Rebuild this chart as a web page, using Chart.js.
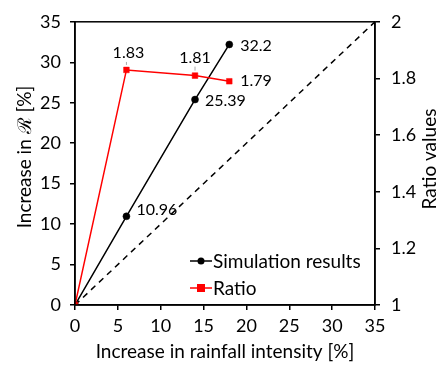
<!DOCTYPE html>
<html>
<head>
<meta charset="utf-8">
<script src="https://cdn.jsdelivr.net/npm/chart.js@4.4.0/dist/chart.umd.min.js"></script>
<style>
  body { margin: 0; background: #fff; }
  canvas { display: block; }
</style>
</head>
<body>
<canvas id="myChart" width="438" height="366"></canvas>
<script>
// data
var rainIncrease = [0, 6, 14, 18];
var simResults = [0, 10.96, 25.39, 32.2];
var ratioValues = [1, 1.83, 1.81, 1.79];
var refLineX = [0, 35];
var xTicks = [0, 5, 10, 15, 20, 25, 30, 35];
var leftTicks = [0, 5, 10, 15, 20, 25, 30, 35];
var rightTicks = [1, 1.2, 1.4, 1.6, 1.8, 2];

var FONT = 'Lato, "Open Sans", sans-serif';

function pts(xs, ys) {
  return xs.map(function(x, i) { return { x: x, y: ys[i] }; });
}

// labels next to the points: [dataset index, point index, dx, dy, align]
var labelPlaces = [
  [0, 1, 10, -6, 'left'],
  [0, 2, 10, 1, 'left'],
  [0, 3, 11, 1, 'left'],
  [1, 1, 2, -17, 'center'],
  [1, 2, 0, -18, 'center'],
  [1, 3, 11, 0, 'left']
];

var extras = {
  id: 'extras',
  afterDatasetsDraw: function(chart) {
    var ctx = chart.ctx;
    var a = chart.chartArea;
    ctx.save();
    // frame
    ctx.strokeStyle = '#000';
    ctx.lineWidth = 1.5;
    ctx.strokeRect(a.left, a.top, a.right - a.left, a.bottom - a.top);

    // value labels
    ctx.font = '16px ' + FONT;
    ctx.fillStyle = '#000';
    ctx.textBaseline = 'middle';
    labelPlaces.forEach(function(p) {
      var el = chart.getDatasetMeta(p[0]).data[p[1]];
      var v = p[0] === 0 ? simResults[p[1]] : ratioValues[p[1]];
      ctx.textAlign = p[4];
      ctx.fillText(String(v), el.x + p[2], el.y + p[3]);
      if (p[4] === 'center') {
        ctx.strokeStyle = '#aaa';
        ctx.lineWidth = 1;
        ctx.beginPath();
        ctx.moveTo(el.x, el.y + p[3] + 9);
        ctx.lineTo(el.x, el.y - 5);
        ctx.stroke();
      }
    });

    // legend
    ctx.font = '19px ' + FONT;
    ctx.textAlign = 'left';
    var legend = [
      { text: 'Simulation results', color: '#000', y: 261, square: false },
      { text: 'Ratio', color: '#ff0000', y: 288, square: true }
    ];
    legend.forEach(function(l) {
      ctx.strokeStyle = l.color;
      ctx.fillStyle = l.color;
      ctx.lineWidth = 1.5;
      ctx.beginPath();
      ctx.moveTo(190, l.y);
      ctx.lineTo(212, l.y);
      ctx.stroke();
      if (l.square) {
        ctx.fillRect(197, l.y - 4, 8, 8);
      } else {
        ctx.beginPath();
        ctx.arc(201, l.y, 3.5, 0, Math.PI * 2);
        ctx.fill();
      }
      ctx.fillStyle = '#000';
      ctx.fillText(l.text, 213, l.y + 1);
    });

    // axis titles
    ctx.font = '19px ' + FONT;
    ctx.textAlign = 'center';
    ctx.fillText('Increase in rainfall intensity [%]', 225, 352);
    ctx.save();
    ctx.translate(25, 157);
    ctx.rotate(-Math.PI / 2);
    ctx.fillText('Increase in \u211B [%]', 0, 0);
    ctx.restore();
    ctx.save();
    ctx.translate(430, 159);
    ctx.rotate(-Math.PI / 2);
    ctx.fillText('Ratio values', 0, 0);
    ctx.restore();
    ctx.restore();
  }
};

function fixedTicks(values) {
  return function(scale) {
    scale.ticks = values.map(function(v) { return { value: v }; });
  };
}

var ctx = document.getElementById('myChart').getContext('2d');
var myChart = new Chart(ctx, {
  type: 'scatter',
  data: {
    datasets: [
      {
        label: 'Simulation results',
        data: pts(rainIncrease, simResults),
        showLine: true,
        borderColor: '#000',
        backgroundColor: '#000',
        borderWidth: 1.5,
        pointRadius: 3.5,
        pointBorderWidth: 0.5,
        pointStyle: 'circle',
        yAxisID: 'y',
        order: 2
      },
      {
        label: 'Ratio',
        data: pts(rainIncrease, ratioValues),
        showLine: true,
        borderColor: '#ff0000',
        backgroundColor: '#ff0000',
        borderWidth: 1.5,
        pointRadius: 4,
        pointBorderWidth: 0.5,
        pointStyle: 'rect',
        yAxisID: 'y1',
        order: 1
      },
      {
        label: '1:1',
        data: pts(refLineX, refLineX),
        showLine: true,
        borderColor: '#000',
        borderWidth: 1.5,
        borderDash: [6, 5],
        pointRadius: 0,
        yAxisID: 'y',
        order: 3
      }
    ]
  },
  options: {
    responsive: false,
    animation: false,
    layout: { padding: { top: 13, left: 0, right: 0, bottom: 0 } },
    plugins: {
      legend: { display: false },
      tooltip: { enabled: false }
    },
    scales: {
      x: {
        type: 'linear',
        min: 0, max: 35,
        afterBuildTicks: fixedTicks(xTicks),
        afterFit: function(s) { s.height = 61; },
        grid: { drawOnChartArea: false, drawTicks: true, tickLength: 5, color: '#000', lineWidth: 1.5 },
        border: { display: true, color: '#000', width: 1.5 },
        ticks: { color: '#000', font: { family: FONT, size: 18 }, padding: 5, maxRotation: 0 }
      },
      y: {
        type: 'linear',
        position: 'left',
        min: 0, max: 35,
        afterBuildTicks: fixedTicks(leftTicks),
        afterFit: function(s) { s.width = 75; },
        grid: { drawOnChartArea: false, drawTicks: true, tickLength: 5, color: '#000', lineWidth: 1.5 },
        border: { display: true, color: '#000', width: 1.5 },
        ticks: { color: '#000', font: { family: FONT, size: 18 }, padding: 9 }
      },
      y1: {
        type: 'linear',
        position: 'right',
        min: 1, max: 2,
        afterBuildTicks: fixedTicks(rightTicks),
        afterFit: function(s) { s.width = 63; },
        grid: { drawOnChartArea: false, drawTicks: true, tickLength: 5, color: '#000', lineWidth: 1.5 },
        border: { display: true, color: '#000', width: 1.5 },
        ticks: {
          color: '#000', font: { family: FONT, size: 18 }, padding: 11,
          callback: function(v) { return String(Math.round(v * 10) / 10); }
        }
      }
    }
  },
  plugins: [extras]
});
</script>
</body>
</html>
